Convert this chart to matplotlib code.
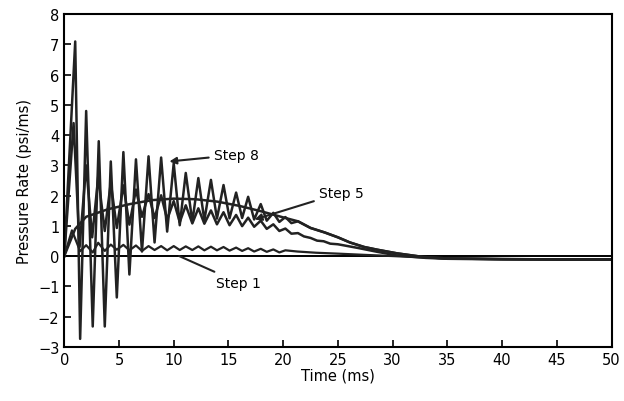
import numpy as np
import matplotlib
matplotlib.use('Agg')
import matplotlib.pyplot as plt

# Step 8 - large oscillation (peaks/troughs)
t_step8 = [0, 1.0, 1.45, 2.0, 2.6, 3.15, 3.7, 4.25, 4.8, 5.4, 5.95, 6.55, 7.1, 7.7, 8.25,
           8.85, 9.4, 10.0, 10.55, 11.1, 11.7, 12.25, 12.8, 13.4, 13.95, 14.55, 15.1,
           15.7, 16.25, 16.8, 17.35, 17.95, 18.5, 19.1, 19.65, 20.2, 20.75, 21.35,
           22.5, 23.8, 25.0, 26.1, 27.4, 28.6, 30.4, 32.8, 35, 40, 45, 50]
p_step8 = [0, 7.1, -2.74, 4.8, -2.33, 3.8, -2.33, 3.13, -1.37, 3.44, -0.61, 3.2, 0.15, 3.3, 0.45,
           3.26, 0.81, 3.07, 1.02, 2.75, 1.13, 2.58, 1.18, 2.52, 1.24, 2.35, 1.25,
           2.1, 1.26, 1.96, 1.21, 1.72, 1.17, 1.43, 1.13, 1.29, 1.09, 1.15,
           0.93, 0.78, 0.62, 0.45, 0.30, 0.21, 0.09, -0.03, -0.08, -0.10, -0.11, -0.11]

# smooth curve running through the middle of step 8
t_mean = [0, 1, 2, 4, 6, 8, 10, 12, 14, 16, 18, 20, 21.35, 22.5, 23.8, 25.0, 26.1, 27.4,
          28.6, 30.4, 32.8, 35, 40, 45, 50]
p_mean = [0, 0.9, 1.3, 1.55, 1.72, 1.85, 1.9, 1.88, 1.8, 1.66, 1.48, 1.28, 1.15, 0.93, 0.78,
          0.62, 0.45, 0.30, 0.21, 0.09, -0.03, -0.08, -0.10, -0.11, -0.11]

# Step 5
t_step5 = [0, 0.85, 1.4, 2.0, 2.55, 3.1, 3.7, 4.25, 4.8, 5.4, 5.95, 6.55, 7.1, 7.7, 8.25,
           8.85, 9.4, 10.0, 10.55, 11.1, 11.7, 12.25, 12.8, 13.4, 13.95, 14.55, 15.1,
           15.7, 16.25, 16.8, 17.35, 17.95, 18.5, 19.1, 19.65, 20.2, 20.75, 21.35, 21.9,
           22.5, 23.1, 23.7, 24.3, 25.0, 26.8, 28.6, 30.4, 33, 35, 40, 45, 50]
p_step5 = [0, 4.4, 0.3, 3.0, 0.62, 2.62, 0.83, 2.43, 0.93, 2.34, 1.04, 2.2, 1.3, 2.05, 1.26,
           2.01, 1.21, 1.82, 1.12, 1.68, 1.08, 1.58, 1.07, 1.51, 1.05, 1.45, 1.02,
           1.36, 0.99, 1.27, 0.97, 1.17, 0.9, 1.05, 0.83, 0.91, 0.74, 0.76, 0.65,
           0.6, 0.51, 0.49, 0.41, 0.39, 0.27, 0.14, 0.02, -0.06, -0.09, -0.11, -0.12, -0.12]

# Step 1
t_step1 = [0, 0.7, 1.45, 2.0, 2.6, 3.1, 3.7, 4.25, 4.8, 5.4, 5.95, 6.55, 7.1, 7.7, 8.25,
           8.85, 9.4, 10.0, 10.55, 11.1, 11.7, 12.25, 12.8, 13.4, 13.95, 14.55, 15.1,
           15.7, 16.25, 16.8, 17.35, 17.95, 18.5, 19.1, 19.65, 20.2, 21.3, 23, 25, 27.4,
           30, 33, 35, 40, 50]
p_step1 = [0, 0.85, 0.16, 0.36, 0.12, 0.44, 0.17, 0.38, 0.21, 0.37, 0.19, 0.35, 0.17, 0.33, 0.2,
           0.33, 0.19, 0.33, 0.2, 0.32, 0.2, 0.32, 0.19, 0.31, 0.19, 0.3, 0.18,
           0.28, 0.17, 0.26, 0.15, 0.24, 0.14, 0.22, 0.12, 0.19, 0.15, 0.11, 0.08, 0.04,
           0.0, -0.05, -0.08, -0.1, -0.11]

fig = plt.figure(figsize=(6.24, 4.02), dpi=100)
ax = fig.add_axes([0.103, 0.135, 0.877, 0.827])

ax.axhline(0, color='black', lw=1.4)
ax.plot(t_step8, p_step8, color='#222222', lw=1.8)
ax.plot(t_mean, p_mean, color='#222222', lw=1.8)
ax.plot(t_step5, p_step5, color='#222222', lw=1.8)
ax.plot(t_step1, p_step1, color='#222222', lw=1.6)

ax.annotate('Step 8', xy=(9.6, 3.13), xytext=(13.7, 3.35), fontsize=10, va='center',
            arrowprops=dict(arrowstyle='-|>', color='#222222', lw=1.5, shrinkA=2, shrinkB=0))
ax.annotate('Step 5', xy=(17.4, 1.21), xytext=(23.3, 2.1), fontsize=10, va='center',
            arrowprops=dict(arrowstyle='-|>', color='#222222', lw=1.5, shrinkA=2, shrinkB=0))
ax.annotate('Step 1', xy=(10.5, 0.0), xytext=(13.9, -0.88), fontsize=10, va='center',
            arrowprops=dict(arrowstyle='-', color='#222222', lw=1.5, shrinkA=2, shrinkB=0))

ax.set_xlim(0, 50)
ax.set_ylim(-3, 8)
ax.set_xticks(np.arange(0, 51, 5))
ax.set_yticks(np.arange(-3, 9, 1))
ax.tick_params(direction='in', length=5, width=1.2, labelsize=10.5, top=False, right=False)
for s in ax.spines.values():
    s.set_linewidth(1.5)
ax.set_xlabel('Time (ms)', fontsize=10.5, labelpad=1)
ax.set_ylabel('Pressure Rate (psi/ms)', fontsize=10.5, labelpad=4)

plt.savefig('out.png', dpi=100)
